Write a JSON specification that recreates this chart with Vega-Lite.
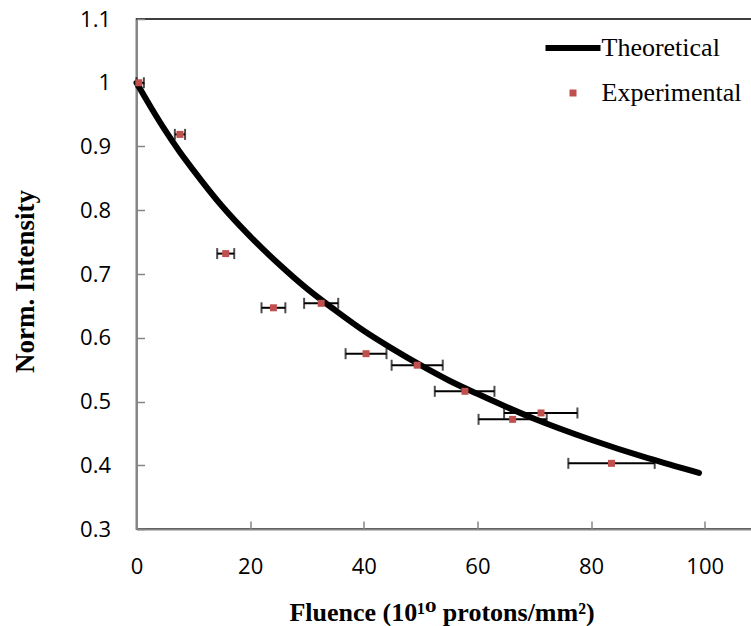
{
  "$schema": "https://vega.github.io/schema/vega-lite/v6.json",
  "autosize": "none",
  "width": 625,
  "height": 510,
  "padding": {"left": 136.5, "top": 19, "right": 0, "bottom": 97},
  "background": "white",
  "config": {
    "view": {"stroke": "black", "strokeWidth": 1.5},
    "axis": {
      "domainColor": "#868686",
      "domainWidth": 2,
      "tickColor": "#868686",
      "tickWidth": 1.5,
      "grid": false,
      "labelFlush": false,
      "labelFont": "Open Sans",
      "labelFontSize": 22,
      "labelColor": "black",
      "titleFont": "Liberation Serif, DejaVu Serif",
      "titleFontSize": 27,
      "titleFontWeight": "bold",
      "titleColor": "black"
    }
  },
  "datasets": {
    "theory": [
      {"fluence": 0, "intensity": 1.0},
      {"fluence": 2.5, "intensity": 0.962},
      {"fluence": 5, "intensity": 0.926},
      {"fluence": 7.5, "intensity": 0.893},
      {"fluence": 10, "intensity": 0.863},
      {"fluence": 15, "intensity": 0.807},
      {"fluence": 20, "intensity": 0.759},
      {"fluence": 25, "intensity": 0.716},
      {"fluence": 30, "intensity": 0.677},
      {"fluence": 35, "intensity": 0.643},
      {"fluence": 40, "intensity": 0.611},
      {"fluence": 45, "intensity": 0.583},
      {"fluence": 50, "intensity": 0.557},
      {"fluence": 55, "intensity": 0.533},
      {"fluence": 60, "intensity": 0.512},
      {"fluence": 70, "intensity": 0.473},
      {"fluence": 80, "intensity": 0.440},
      {"fluence": 90, "intensity": 0.411},
      {"fluence": 99, "intensity": 0.388}
    ],
    "exp": [
      {"fluence": 0.4, "xlo": 0, "xhi": 1.3, "intensity": 1.0},
      {"fluence": 7.65, "xlo": 6.75, "xhi": 8.55, "intensity": 0.919},
      {"fluence": 15.7, "xlo": 14.2, "xhi": 17.2, "intensity": 0.732},
      {"fluence": 24.1, "xlo": 22.0, "xhi": 26.2, "intensity": 0.647},
      {"fluence": 32.5, "xlo": 29.5, "xhi": 35.5, "intensity": 0.654},
      {"fluence": 40.4, "xlo": 36.8, "xhi": 44.0, "intensity": 0.575},
      {"fluence": 49.4, "xlo": 44.9, "xhi": 53.9, "intensity": 0.557},
      {"fluence": 57.8, "xlo": 52.5, "xhi": 63.0, "intensity": 0.516},
      {"fluence": 66.2, "xlo": 60.2, "xhi": 72.2, "intensity": 0.472},
      {"fluence": 71.2, "xlo": 64.7, "xhi": 77.6, "intensity": 0.482},
      {"fluence": 83.6, "xlo": 76.0, "xhi": 91.2, "intensity": 0.403}
    ]
  },
  "layer": [
    {
      "layer": [
        {
          "data": {"name": "theory"},
          "mark": {"type": "line", "strokeWidth": 6, "interpolate": "monotone", "strokeCap": "round"},
          "encoding": {
            "x": {
              "field": "fluence", "type": "quantitative",
              "scale": {"domain": [0, 110], "nice": false, "zero": false},
              "axis": {
                "values": [0, 20, 40, 60, 80, 100],
                "title": "Fluence (10¹⁰ protons/mm²)",
                "tickSize": 0,
                "labelPadding": 27,
                "titleBaseline": "alphabetic",
                "titleFontSize": 26,
                "titleX": 305,
                "titleY": 91
              }
            },
            "y": {
              "field": "intensity", "type": "quantitative",
              "scale": {"domain": [0.3, 1.1], "nice": false, "zero": false},
              "axis": {
                "values": [0.3, 0.4, 0.5, 0.6, 0.7, 0.8, 0.9, 1.0, 1.1],
                "format": "~g",
                "title": "Norm. Intensity",
                "tickSize": 0,
                "labelPadding": 26,
                "titleBaseline": "alphabetic",
                "titleX": -103,
                "titleY": 262
              }
            },
            "color": {
              "datum": "Theoretical", "type": "nominal",
              "scale": {"domain": ["Theoretical", "Experimental"], "range": ["black", "#C0504D"]},
              "legend": {
                "title": null,
                "orient": "none",
                "legendX": 423.5,
                "legendY": 16,
                "padding": 0,
                "symbolSize": 3025,
                "labelFont": "Liberation Serif",
                "labelFontSize": 26,
                "labelColor": "black",
                "labelOffset": 15.5,
                "rowPadding": 19,
                "encode": {
                  "symbols": {
                    "update": {
                      "shape": {"signal": "datum.value === 'Theoretical' ? 'stroke' : 'square'"},
                      "size": {"signal": "datum.value === 'Theoretical' ? 3025 : 49"},
                      "fill": {"signal": "datum.value === 'Theoretical' ? 'transparent' : '#C0504D'"},
                      "stroke": {"signal": "datum.value === 'Theoretical' ? 'black' : 'transparent'"},
                      "strokeWidth": {"signal": "datum.value === 'Theoretical' ? 6 : 0"},
                      "opacity": {"value": 1}
                    }
                  }
                }
              }
            }
          }
        },
        {
          "data": {"name": "exp"},
          "mark": {
            "type": "errorbar",
            "ticks": {"size": 11, "thickness": 2, "color": "black"},
            "rule": {"strokeWidth": 2, "color": "black"}
          },
          "encoding": {
            "x": {"field": "xlo", "type": "quantitative", "title": "Fluence (10¹⁰ protons/mm²)"},
            "x2": {"field": "xhi"},
            "y": {"field": "intensity", "type": "quantitative", "title": "Norm. Intensity"}
          }
        },
        {
          "data": {"name": "exp"},
          "mark": {"type": "square", "size": 49, "opacity": 1},
          "encoding": {
            "x": {"field": "fluence", "type": "quantitative", "title": "Fluence (10¹⁰ protons/mm²)"},
            "y": {"field": "intensity", "type": "quantitative", "title": "Norm. Intensity"},
            "color": {"datum": "Experimental", "type": "nominal"}
          }
        }
      ]
    },
    {
      "data": {"name": "theory"},
      "mark": {"type": "point", "opacity": 0},
      "encoding": {
        "x": {
          "field": "fluence", "type": "quantitative",
          "axis": {
            "orient": "top", "offset": -510, "values": [0, 20, 40, 60, 80, 100],
            "labels": false, "domain": false, "title": null, "tickSize": 8
          }
        },
        "y": {
          "field": "intensity", "type": "quantitative",
          "axis": {
            "orient": "right", "offset": -625, "values": [0.3, 0.4, 0.5, 0.6, 0.7, 0.8, 0.9, 1.0, 1.1],
            "labels": false, "domain": false, "title": null, "tickSize": 8
          }
        }
      }
    }
  ],
  "resolve": {"axis": {"x": "independent", "y": "independent"}}
}
